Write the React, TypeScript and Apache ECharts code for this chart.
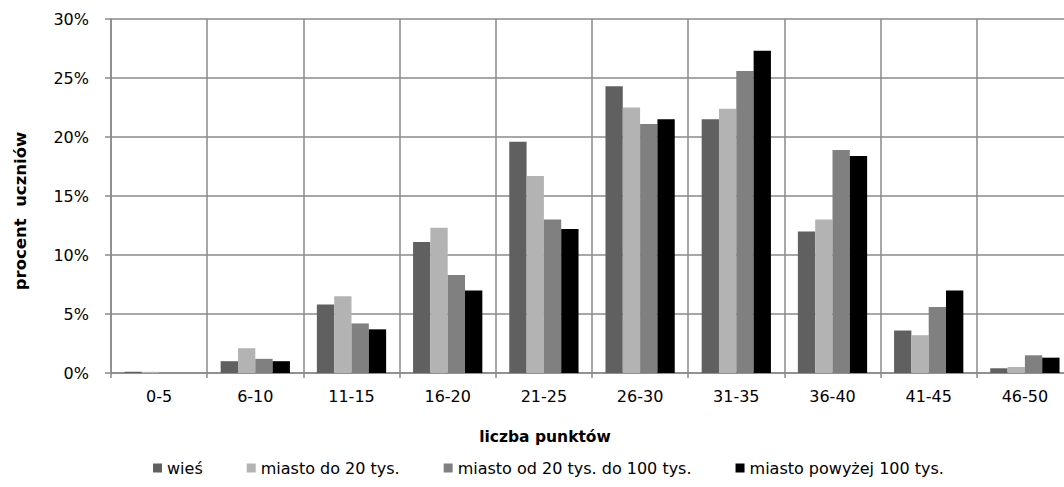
import React, { useEffect, useRef } from "react";
import * as echarts from "echarts";

// Score ranges (points) on the category axis
const categories = ["0-5", "6-10", "11-15", "16-20", "21-25", "26-30", "31-35", "36-40", "41-45", "46-50"];

// Share of students (%) per score range, by place of residence
const wies = [0.1, 1.0, 5.8, 11.1, 19.6, 24.3, 21.5, 12.0, 3.6, 0.4];
const miastoDo20 = [0.1, 2.1, 6.5, 12.3, 16.7, 22.5, 22.4, 13.0, 3.2, 0.5];
const miasto20do100 = [0, 1.2, 4.2, 8.3, 13.0, 21.1, 25.6, 18.9, 5.6, 1.5];
const miastoPow100 = [0, 1.0, 3.7, 7.0, 12.2, 21.5, 27.3, 18.4, 7.0, 1.3];

const seriesNames = ["wieś", "miasto do 20 tys.", "miasto od 20 tys. do 100 tys.", "miasto powyżej 100 tys."];
const seriesColors = ["#606060", "#b3b3b3", "#808080", "#000000"];

const FONT = "'DejaVu Sans', 'Noto Sans', sans-serif";
const GRID = "#8a8a8a";

// The plot runs past the right edge of the visible frame, so the chart
// canvas is wider than the clipping wrapper around it.
const VIEW_W = 1064;
const CHART_W = 1084;
const CHART_H = 487;

export default function App() {
  const ref = useRef<HTMLDivElement>(null);

  useEffect(() => {
    document.body.style.margin = "0";
    if (!ref.current) return;
    const chart = echarts.init(ref.current, undefined, { renderer: "svg" });
    const data = [wies, miastoDo20, miasto20do100, miastoPow100];
    chart.setOption({
      animation: false,
      textStyle: { fontFamily: FONT },
      grid: { left: 111, top: 19, bottom: 114, right: CHART_W - 1073, containLabel: false },
      legend: {
        left: 148,
        top: 455,
        itemWidth: 9,
        itemHeight: 9,
        itemGap: 44,
        icon: "rect",
        textStyle: { fontFamily: FONT, fontSize: 16, color: "#000" },
        data: seriesNames,
      },
      xAxis: {
        type: "category",
        data: categories,
        boundaryGap: true,
        axisLine: { lineStyle: { color: GRID, width: 1.5 } },
        axisTick: { show: true, length: 5, interval: 0, lineStyle: { color: GRID, width: 1.5 } },
        splitLine: { show: true, interval: 0, lineStyle: { color: GRID, width: 1.5 } },
        axisLabel: { color: "#000", fontSize: 16, fontFamily: FONT, margin: 15, interval: 0 },
      },
      yAxis: {
        type: "value",
        min: 0,
        max: 30,
        interval: 5,
        axisLine: { show: true, lineStyle: { color: GRID, width: 1.5 } },
        axisTick: { show: true, length: 6, lineStyle: { color: GRID, width: 1.5 } },
        splitLine: { show: true, lineStyle: { color: GRID, width: 1.5 } },
        axisLabel: { color: "#000", fontSize: 16, fontFamily: FONT, margin: 22, formatter: "{value}%" },
      },
      graphic: [
        {
          type: "text",
          x: 545,
          y: 437,
          style: {
            text: "liczba punktów",
            fontFamily: FONT,
            fontSize: 15.5,
            fontWeight: "bold",
            fill: "#000",
            align: "center",
            verticalAlign: "middle",
          },
        },
        {
          type: "text",
          x: 20,
          y: 211,
          rotation: Math.PI / 2,
          style: {
            text: "procent  uczniów",
            fontFamily: FONT,
            fontSize: 16.5,
            fontWeight: "bold",
            fill: "#000",
            align: "center",
            verticalAlign: "middle",
          },
        },
      ],
      series: seriesNames.map((name, i) => ({
        name,
        type: "bar",
        data: data[i],
        barGap: "0%",
        barCategoryGap: "28%",
        itemStyle: { color: seriesColors[i] },
      })),
    });
    return () => chart.dispose();
  }, []);

  return (
    <div style={{ width: VIEW_W, height: CHART_H, overflow: "hidden" }}>
      <div ref={ref} style={{ width: CHART_W, height: CHART_H }} />
    </div>
  );
}
